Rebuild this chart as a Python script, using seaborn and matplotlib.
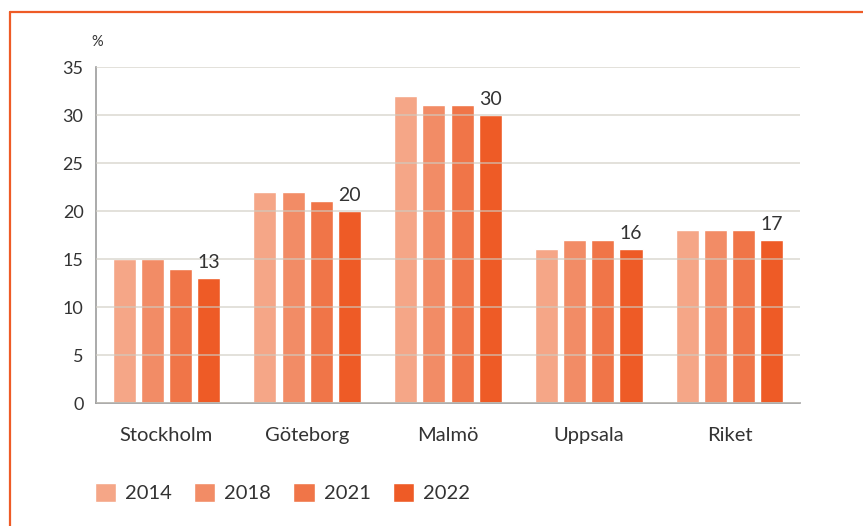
import pandas as pd
import numpy as np
import matplotlib
matplotlib.use('Agg')
from matplotlib import pyplot as plt
from matplotlib.lines import Line2D
import seaborn as sns

# values
cities = ['Stockholm', 'Göteborg', 'Malmö', 'Uppsala', 'Riket']
years = ['2014', '2018', '2021', '2022']
v2014 = [15, 22, 32, 16, 18]
v2018 = [15, 22, 31, 17, 18]
v2021 = [14, 21, 31, 17, 18]
v2022 = [13, 20, 30, 16, 17]

PALETTE = ['#F5A687', '#F28C66', '#F07548', '#EE5B26']
TEXT = '#333333'

df = pd.DataFrame({
    'city': cities * 4,
    'year': [y for y in years for _ in cities],
    'value': v2014 + v2018 + v2021 + v2022,
})

sns.set_style('white')
plt.rcParams['font.family'] = ['Lato', 'DejaVu Sans']

fig = plt.figure(figsize=(8.63, 5.26), dpi=100)
ax = fig.add_axes([0.1112, 0.2338, 0.8158, 0.6388])

sns.barplot(data=df, x='city', y='value', hue='year', palette=PALETTE,
            width=0.8, gap=0.18, saturation=1, ax=ax, legend=True)

# only the 2022 bars get a value label
ax.bar_label(ax.containers[3], padding=5, fontsize=14, color=TEXT)

ax.set_ylim(0, 35)
ax.set_xlim(-0.5, 4.5)
ax.set_yticks(range(0, 36, 5))
ax.set_xlabel('')
ax.set_ylabel('')

# grid drawn on top of the bars, as in the original
ax.set_axisbelow(False)
ax.yaxis.grid(True, color='#cfccc2', linewidth=1.4, alpha=0.6)
ax.xaxis.grid(False)

for s in ['top', 'right']:
    ax.spines[s].set_visible(False)
for s in ['left', 'bottom']:
    ax.spines[s].set_color('#9c9c9c')
    ax.spines[s].set_linewidth(1.2)

ax.tick_params(axis='y', length=0, pad=9, labelsize=13, labelcolor=TEXT)
ax.tick_params(axis='x', which='major', length=0, pad=17, labelsize=14.5, labelcolor=TEXT)
ax.set_xticks(np.arange(-0.5, 5, 1), minor=True)
ax.tick_params(axis='x', which='minor', direction='in', length=6, width=1.2, color='#9c9c9c')

ax.text(-0.006, 1.074, '%', transform=ax.transAxes, fontsize=10.5, color=TEXT, ha='left', va='center')

# legend under the plot
handles, labels = ax.get_legend_handles_labels()
ax.legend_.remove()
fig.legend(handles, labels, loc='center left', bbox_to_anchor=(0.089, 0.063), ncol=4,
           frameon=False, fontsize=14.5, handlelength=1.05, handleheight=1.05,
           handletextpad=0.45, columnspacing=1.1, labelcolor=TEXT)

# orange frame line on the top and left edge
fig.add_artist(Line2D([10 / 863, 10 / 863], [0, 1 - 12 / 526], color='#EE5B26', linewidth=1.6,
                      transform=fig.transFigure))
fig.add_artist(Line2D([10 / 863, 1], [1 - 12 / 526, 1 - 12 / 526], color='#EE5B26', linewidth=1.6,
                      transform=fig.transFigure))

fig.savefig('out.png', dpi=100)
